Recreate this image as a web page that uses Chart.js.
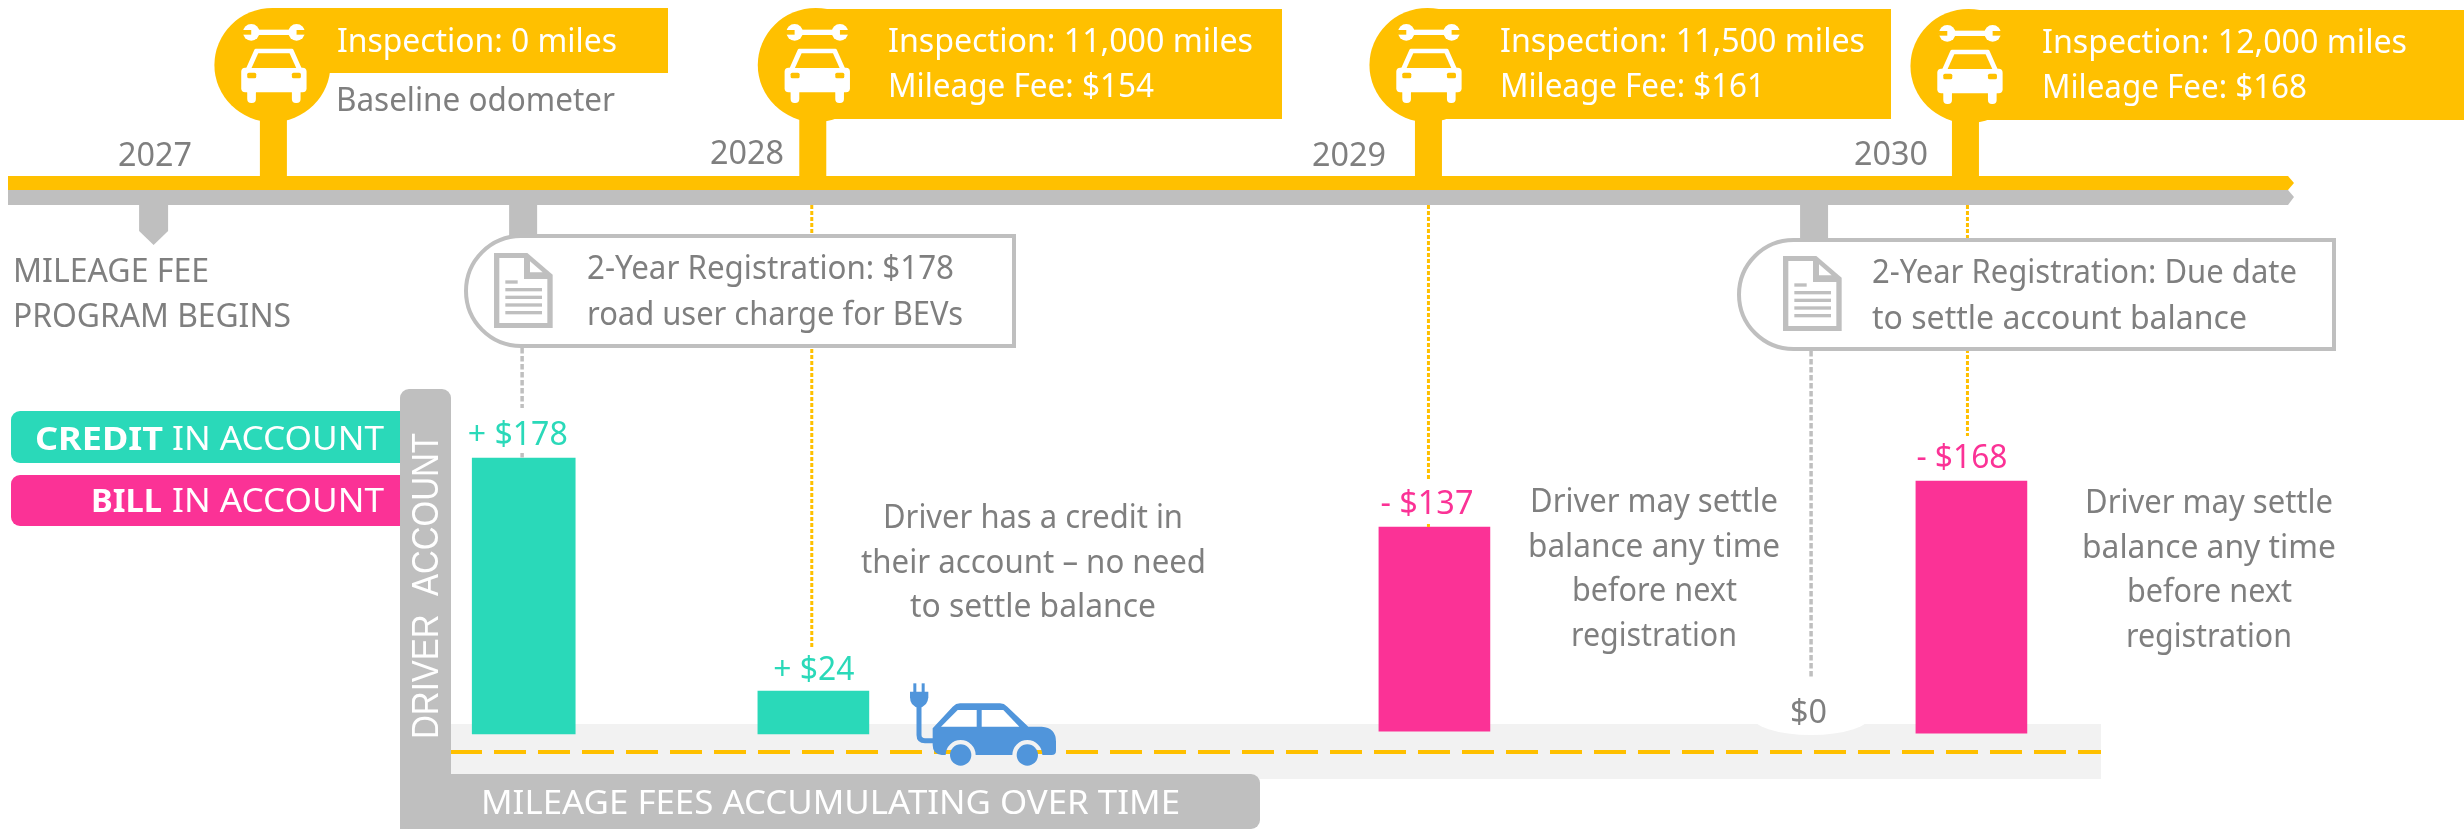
<!DOCTYPE html>
<html>
<head>
<meta charset="utf-8">
<title>Mileage fee timeline</title>
<script src="https://cdn.jsdelivr.net/npm/chart.js@4"></script>
<style>
  html, body { margin: 0; padding: 0; background: #fff; }
  canvas { display: block; }
</style>
</head>
<body>
<canvas id="chart" width="2464" height="829"></canvas>
<script>
// timeline data, x values are in years
const yearLabels = ['2027', '2028', '2029', '2030'];
const programStartYear = 2027.001;
const inspectionYears = [2027.202, 2028.107, 2029.14, 2030.041];
const inspectionMiles = ['Inspection: 0 miles', 'Inspection: 11,000 miles', 'Inspection: 11,500 miles', 'Inspection: 12,000 miles'];
const inspectionFees = ['Baseline odometer', 'Mileage Fee: $154', 'Mileage Fee: $161', 'Mileage Fee: $168'];
const registrationYears = [2027.621, 2029.787];

// account bars: heights, in dollars
const creditYears = [2027.622, 2028.108];
const creditBase = [0, 0];
const creditTop = [178, 27.7];
const billYears = [2029.15, 2030.051];
const billBase = [1.9, 0.6];
const billTop = [133.5, 163.2];
const balanceLabels = ['+ $178', '+ $24', '- $137', '- $168', '$0'];

const GOLD = '#FFC000', GREY = '#BFBFBF', TEXT = '#7F7F7F', TEAL = '#2AD9B9', PINK = '#FB3296', BLUE = '#5095DB', ROAD = '#F2F2F2';
const FONT = '"Noto Sans", sans-serif';

// draws text squeezed to the width it has in the picture
function text(ctx, str, x, y, w, color, size, weight, family) {
    ctx.save();
    ctx.font = (weight || 'normal') + ' ' + (size || 32.5) + 'px ' + (family || FONT);
    ctx.fillStyle = color;
    ctx.textBaseline = 'alphabetic';
    ctx.textAlign = 'left';
    ctx.translate(x, y);
    ctx.scale(w / ctx.measureText(str).width, 1);
    ctx.fillText(str, 0, 0);
    ctx.restore();
}

function poly(ctx, pts) {
    ctx.beginPath();
    pts.forEach(function (p, i) { if (i) ctx.lineTo(p[0], p[1]); else ctx.moveTo(p[0], p[1]); });
    ctx.closePath();
}

function dotted(ctx, x, y1, y2, color, width, dash) {
    ctx.save();
    ctx.strokeStyle = color;
    ctx.lineWidth = width;
    ctx.setLineDash(dash);
    ctx.beginPath();
    ctx.moveTo(x, y1);
    ctx.lineTo(x, y2);
    ctx.stroke();
    ctx.restore();
}

// wrench and car, cx is the middle of the icon
function inspectionIcon(ctx, cx, top) {
    ctx.save();
    ctx.translate(cx, top);
    ctx.scale(1 / 3, 1 / 3);
    ctx.fillStyle = '#fff';
    // wrench
    ctx.fillRect(-62, 89, 124, 16);
    [-68, 68].forEach(function (x) {
        ctx.beginPath();
        ctx.arc(x, 97, 25, 0, Math.PI * 2);
        ctx.fill();
    });
    ctx.fillStyle = GOLD;
    ctx.fillRect(-95, 90, 27, 14);
    ctx.fillRect(68, 90, 27, 14);
    // car
    ctx.fillStyle = '#fff';
    ctx.save();
    ctx.strokeStyle = '#fff';
    ctx.lineWidth = 10;
    ctx.lineJoin = 'round';
    poly(ctx, [[-54, 151], [54, 151], [80, 210], [-80, 210]]);
    ctx.fill();
    ctx.stroke();
    ctx.restore();
    ctx.beginPath();
    ctx.roundRect(-98, 203, 196, 74, 12);
    ctx.fill();
    [-80, 54].forEach(function (x) {
        ctx.beginPath();
        ctx.roundRect(x, 265, 26, 44, 12);
        ctx.fill();
    });
    ctx.fillStyle = GOLD;
    poly(ctx, [[-47, 160], [47, 160], [67, 204], [-67, 204]]);
    ctx.fill();
    [-80, 54].forEach(function (x) {
        ctx.beginPath();
        ctx.roundRect(x, 218, 27, 17, 5);
        ctx.fill();
    });
    ctx.restore();
}

function docIcon(ctx, x, y) {
    ctx.save();
    ctx.translate(x, y);
    ctx.scale(1 / 3, 1 / 3);
    ctx.fillStyle = GREY;
    poly(ctx, [[0, 0], [100, 0], [176, 65], [176, 225], [0, 225]]);
    ctx.fill();
    ctx.fillStyle = '#fff';
    poly(ctx, [[16, 15], [90, 15], [90, 78], [160, 78], [160, 210], [16, 210]]);
    ctx.fill();
    poly(ctx, [[108, 25], [146, 58], [108, 58]]);
    ctx.fill();
    ctx.fillStyle = GREY;
    ctx.fillRect(34, 82, 37, 10);
    [105, 128, 151, 174].forEach(function (ly) { ctx.fillRect(34, ly, 110, 10); });
    ctx.restore();
}

function evCar(ctx) {
    ctx.save();
    ctx.translate(860, 660);
    ctx.scale(1 / 3, 1 / 3);
    ctx.fillStyle = BLUE;
    // plug and cord
    ctx.fillRect(160, 70, 9, 28);
    ctx.fillRect(185, 70, 9, 28);
    ctx.beginPath();
    ctx.moveTo(150, 95);
    ctx.lineTo(205, 95);
    ctx.lineTo(205, 112);
    ctx.quadraticCurveTo(203, 140, 177, 143);
    ctx.quadraticCurveTo(150, 140, 150, 112);
    ctx.closePath();
    ctx.fill();
    ctx.strokeStyle = BLUE;
    ctx.lineWidth = 15;
    ctx.beginPath();
    ctx.moveTo(177, 140);
    ctx.lineTo(177, 225);
    ctx.quadraticCurveTo(177, 242, 195, 242);
    ctx.lineTo(225, 242);
    ctx.stroke();
    // body, wheel arches are cut out so the road shows through
    ctx.beginPath();
    ctx.moveTo(218, 205);
    ctx.lineTo(278, 140);
    ctx.quadraticCurveTo(288, 130, 300, 130);
    ctx.lineTo(420, 130);
    ctx.quadraticCurveTo(432, 130, 442, 140);
    ctx.lineTo(505, 200);
    ctx.lineTo(545, 200);
    ctx.quadraticCurveTo(588, 203, 588, 245);
    ctx.lineTo(588, 272);
    ctx.quadraticCurveTo(588, 285, 575, 285);
    ctx.lineTo(547, 285);
    ctx.arc(502, 285, 45, 0, Math.PI, true);
    ctx.lineTo(347, 285);
    ctx.arc(302, 285, 45, 0, Math.PI, true);
    ctx.lineTo(245, 285);
    ctx.quadraticCurveTo(218, 282, 218, 255);
    ctx.closePath();
    ctx.fill();
    [302, 502].forEach(function (x) {
        ctx.beginPath();
        ctx.arc(x, 285, 32, 0, Math.PI * 2);
        ctx.fill();
    });
    ctx.fillStyle = '#fff';
    poly(ctx, [[243, 200], [293, 150], [350, 150], [350, 200]]);
    ctx.fill();
    poly(ctx, [[365, 150], [430, 150], [478, 200], [365, 200]]);
    ctx.fill();
    ctx.restore();
}

function regBox(ctx, x, y, w, h) {
    ctx.save();
    ctx.fillStyle = '#fff';
    ctx.strokeStyle = GREY;
    ctx.lineWidth = 4;
    ctx.beginPath();
    ctx.roundRect(x, y, w, h, [h / 2, 0, 0, h / 2]);
    ctx.fill();
    ctx.stroke();
    ctx.restore();
}

// everything under the bars: road and centre line
const roadPlugin = {
    id: 'road',
    beforeDatasetsDraw(chart) {
        const ctx = chart.ctx;
        ctx.save();
        ctx.fillStyle = ROAD;
        ctx.fillRect(451, 724, 1650, 55);
        ctx.strokeStyle = GOLD;
        ctx.lineWidth = 4;
        ctx.setLineDash([32, 12]);
        ctx.beginPath();
        ctx.moveTo(450, 752);
        ctx.lineTo(2101, 752);
        ctx.stroke();
        ctx.restore();
        // white bump behind the $0 label
        ctx.save();
        ctx.fillStyle = '#fff';
        ctx.beginPath();
        ctx.ellipse(1811, 715, 60, 20, 0, 0, Math.PI * 2);
        ctx.fill();
        ctx.restore();
        evCar(ctx);
    }
};

const overlayPlugin = {
    id: 'overlay',
    afterDatasetsDraw(chart) {
        const ctx = chart.ctx;
        const xs = chart.scales.x;
        const stems = inspectionYears.map(function (v) { return xs.getPixelForValue(v); });
        const regs = registrationYears.map(function (v) { return xs.getPixelForValue(v); });
        const begin = xs.getPixelForValue(programStartYear);

        // dotted leaders
        dotted(ctx, stems[1] - 1, 205, 648, GOLD, 3, [4, 2]);
        dotted(ctx, stems[2], 205, 527, GOLD, 3, [4, 2]);
        dotted(ctx, stems[3] + 2, 205, 436, GOLD, 3, [4, 2]);
        dotted(ctx, regs[0] - 1, 348, 458, GREY, 3.5, [5.5, 2.5]);
        dotted(ctx, regs[1] - 3, 351, 677, GREY, 3.5, [5.5, 2.5]);
        ctx.fillStyle = '#fff';
        ctx.fillRect(regs[0] - 4, 408, 8, 45);
        ctx.fillRect(stems[2] - 4, 481, 8, 43);

        // timeline bands
        ctx.fillStyle = GOLD;
        poly(ctx, [[8, 176], [2288, 176], [2294, 183], [2288, 190], [8, 190]]);
        ctx.fill();
        ctx.fillStyle = GREY;
        poly(ctx, [[8, 190], [2288, 190], [2294, 197], [2288, 205], [8, 205]]);
        ctx.fill();

        // inspection pins
        const pinShift = [0, 4, 0, 4];
        const pinBottom = [73, 119, 119, 120];
        const pinRight = [668, 1282, 1891, 2464];
        const textX = [337, 888, 1500, 2042];
        const milesW = [280, 365, 365, 365];
        const feeW = [279, 266, 265, 265];
        const feeColor = [TEXT, '#fff', '#fff', '#fff'];
        stems.forEach(function (sx, i) {
            const top = i === 3 ? 10 : (i === 0 ? 8 : 9);
            const cx = sx + pinShift[i] - 1;
            ctx.fillStyle = GOLD;
            ctx.fillRect(sx - 13.5, 110, 27, 68);
            ctx.beginPath();
            ctx.ellipse(cx, 65 + (i === 3 ? 1 : 0), 58, 57, 0, 0, Math.PI * 2);
            ctx.fill();
            ctx.fillRect(cx, top, pinRight[i] - cx, pinBottom[i] - top);
            inspectionIcon(ctx, cx + 1.5, i === 3 ? 1 : 0);
            const dy = i === 3 ? 1 : 0;
            text(ctx, inspectionMiles[i], textX[i], 52 + dy, milesW[i], '#fff');
            text(ctx, inspectionFees[i], textX[i] - (i === 0 ? 1 : 0), (i === 0 ? 111 : 97) + dy, feeW[i], feeColor[i]);
        });

        // year labels
        const yearX = [118, 710, 1312, 1854];
        const yearY = [166, 164, 166, 165];
        yearLabels.forEach(function (y, i) { text(ctx, y, yearX[i], yearY[i], 74, TEXT, 32); });

        // program start marker
        ctx.fillStyle = GREY;
        poly(ctx, [[begin - 14.5, 205], [begin + 14.5, 205], [begin + 14.5, 231], [begin, 245], [begin - 14.5, 231]]);
        ctx.fill();
        text(ctx, 'MILEAGE FEE', 13, 282, 196, TEXT);
        text(ctx, 'PROGRAM BEGINS', 13, 327, 278, TEXT);

        // registration call outs
        ctx.fillStyle = GREY;
        ctx.fillRect(regs[0] - 14, 205, 28, 31);
        ctx.fillRect(regs[1] - 14, 205, 28, 35);
        regBox(ctx, 466, 236, 548, 110);
        regBox(ctx, 1739, 240, 595, 109);
        docIcon(ctx, 494, 253);
        docIcon(ctx, 1783, 256);
        text(ctx, '2-Year Registration: $178', 587, 279, 367, TEXT);
        text(ctx, 'road user charge for BEVs', 587, 325, 376, TEXT);
        text(ctx, '2-Year Registration: Due date', 1872, 283, 425, TEXT);
        text(ctx, 'to settle account balance', 1872, 329, 375, TEXT);

        // legend
        ctx.fillStyle = TEAL;
        ctx.beginPath();
        ctx.roundRect(11, 411, 395, 52, [9, 0, 0, 9]);
        ctx.fill();
        ctx.fillStyle = PINK;
        ctx.beginPath();
        ctx.roundRect(11, 475, 395, 51, [9, 0, 0, 9]);
        ctx.fill();
        text(ctx, 'CREDIT', 35, 450, 128, '#fff', 32.5, 'bold');
        text(ctx, 'IN ACCOUNT', 172, 450, 212, '#fff');
        text(ctx, 'BILL', 91, 512, 71, '#fff', 32.5, 'bold');
        text(ctx, 'IN ACCOUNT', 172, 512, 212, '#fff');

        // axes drawn as a thick L
        ctx.fillStyle = GREY;
        ctx.beginPath();
        ctx.roundRect(400, 389, 51, 440, [9, 9, 0, 0]);
        ctx.fill();
        ctx.beginPath();
        ctx.roundRect(400, 774, 860, 55, [0, 9, 9, 9]);
        ctx.fill();
        ctx.save();
        ctx.translate(438, 739);
        ctx.rotate(-Math.PI / 2);
        text(ctx, 'DRIVER  ACCOUNT', 0, 0, 306, '#fff', 37, 'normal', '"Liberation Sans", sans-serif');
        ctx.restore();
        text(ctx, 'MILEAGE FEES ACCUMULATING OVER TIME', 481, 814, 699, '#fff');

        // value labels above the bars
        const bars = [chart.getDatasetMeta(0).data[0], chart.getDatasetMeta(1).data[0], chart.getDatasetMeta(2).data[0], chart.getDatasetMeta(2).data[1]];
        const labelDx = [-56, -40, -54, -55];
        const labelW = [100, 81, 93, 91];
        const labelUp = [13, 11, 13, 13];
        const labelColor = [TEAL, TEAL, PINK, PINK];
        bars.forEach(function (b, i) {
            text(ctx, balanceLabels[i], b.x + labelDx[i], b.y - labelUp[i], labelW[i], labelColor[i]);
        });
        text(ctx, balanceLabels[4], 1790, 723, 37, TEXT);

        // notes
        text(ctx, 'Driver has a credit in', 883, 528, 300, TEXT);
        text(ctx, 'their account \u2013 no need', 861, 573, 345, TEXT);
        text(ctx, 'to settle balance', 910, 617, 246, TEXT);
        [[1530, 0], [2085, 1]].forEach(function (n) {
            const x = n[0], dy = n[1];
            text(ctx, 'Driver may settle', x, 512 + dy, 248, TEXT);
            text(ctx, 'balance any time', x - 2 - dy, 557 + dy, 252 + dy * 2, TEXT);
            text(ctx, 'before next', x + 42, 601 + dy, 165, TEXT);
            text(ctx, 'registration', x + 41, 646 + dy, 166, TEXT);
        });
    }
};

function bars(years, base, top, color, width) {
    return {
        data: years.map(function (x, i) { return { x: x, y: [base[i], top[i]] }; }),
        backgroundColor: color,
        maxBarThickness: width,
        barPercentage: 1,
        categoryPercentage: 1,
        grouped: false
    };
}

const ctx = document.getElementById('chart').getContext('2d');
const myChart = new Chart(ctx, {
    type: 'bar',
    data: {
        datasets: [
            bars(creditYears.slice(0, 1), creditBase.slice(0, 1), creditTop.slice(0, 1), TEAL, 103),
            bars(creditYears.slice(1), creditBase.slice(1), creditTop.slice(1), TEAL, 111),
            bars(billYears, billBase, billTop, PINK, 111)
        ]
    },
    options: {
        responsive: false,
        animation: false,
        layout: { padding: 0 },
        scales: {
            x: { type: 'linear', min: 2026.74329, max: 2030.87748, offset: false, display: false },
            y: { min: -61.29, max: 473.55, display: false }
        },
        plugins: {
            legend: { display: false },
            tooltip: { enabled: false }
        }
    },
    plugins: [roadPlugin, overlayPlugin]
});
</script>
</body>
</html>
